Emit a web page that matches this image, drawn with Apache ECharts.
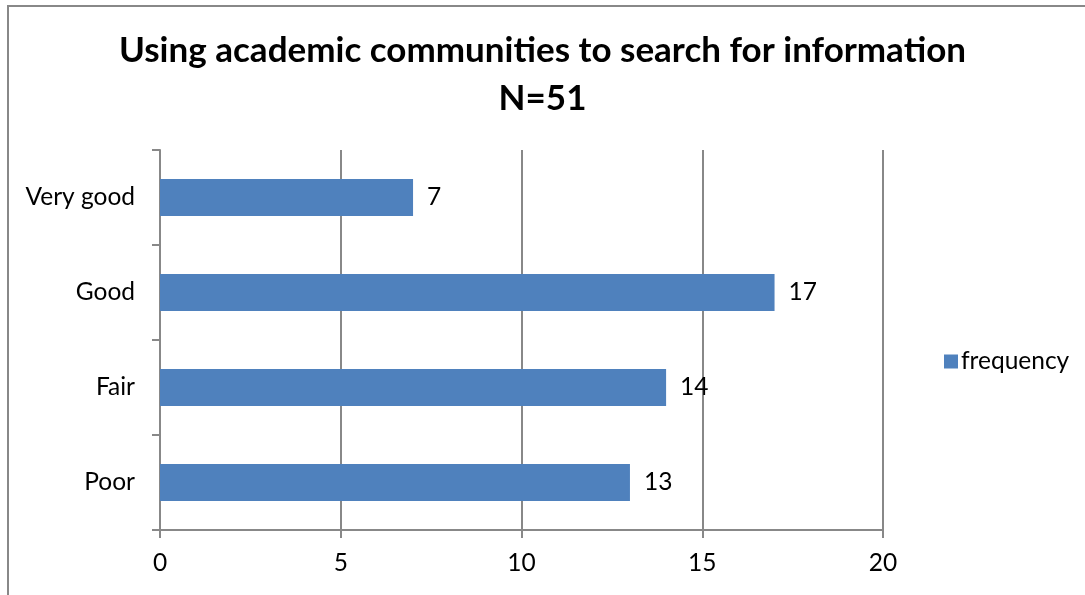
<!DOCTYPE html>
<html>
<head>
<meta charset="utf-8">
<style>
  html, body { margin: 0; padding: 0; background: #fff; }
  #chart { width: 1085px; height: 595px; }
</style>
<script src="https://cdn.jsdelivr.net/npm/echarts@6/dist/echarts.min.js"></script>
</head>
<body>
<div id="chart"></div>
<script>
// Ratings, listed bottom to top as drawn on the category axis
const categories = ['Poor', 'Fair', 'Good', 'Very good'];
const frequency = [13, 14, 17, 7];
const xTicks = [0, 5, 10, 15, 20];

const FONT = 'Lato, "Open Sans", sans-serif';
const chart = echarts.init(document.getElementById('chart'));

chart.setOption({
  backgroundColor: '#fff',
  animation: false,
  title: {
    text: 'Using academic communities to search for information\nN=51',
    left: 'center',
    top: 22,
    textStyle: {
      fontFamily: FONT,
      fontSize: 35,
      fontWeight: 'bold',
      color: '#000',
      lineHeight: 48
    }
  },
  legend: {
    data: ['frequency'],
    orient: 'vertical',
    left: 939,
    top: 344,
    itemWidth: 14,
    itemHeight: 14,
    itemGap: 6,
    icon: 'rect',
    textStyle: { fontFamily: FONT, fontSize: 24.5, color: '#000', padding: [0, 0, 0, -2] }
  },
  graphic: [{
    type: 'rect',
    shape: { x: 8, y: 6, width: 1200, height: 700 },
    style: { fill: 'none', stroke: '#888', lineWidth: 2 },
    silent: true
  }],
  grid: { left: 160, right: 202, top: 150, bottom: 65, containLabel: false },
  xAxis: {
    type: 'value',
    min: xTicks[0],
    max: xTicks[xTicks.length - 1],
    interval: 5,
    axisLine: { show: true, lineStyle: { color: '#888', width: 2 } },
    axisTick: { show: true, length: 8, lineStyle: { color: '#888', width: 2 } },
    axisLabel: { fontFamily: FONT, fontSize: 24.5, color: '#000', margin: 21 },
    splitLine: { show: true, lineStyle: { color: '#888', width: 2 } }
  },
  yAxis: {
    type: 'category',
    data: categories,
    axisLine: { show: true, lineStyle: { color: '#888', width: 2 } },
    axisTick: { show: true, length: 8, lineStyle: { color: '#888', width: 2 } },
    axisLabel: { fontFamily: FONT, fontSize: 24.5, color: '#000', margin: 25 }
  },
  series: [{
    name: 'frequency',
    type: 'bar',
    data: frequency,
    barWidth: 37,
    itemStyle: { color: '#4F81BD' },
    label: {
      show: true,
      position: 'right',
      distance: 14,
      fontFamily: FONT,
      fontSize: 24.5,
      color: '#000'
    }
  }]
});
</script>
</body>
</html>
